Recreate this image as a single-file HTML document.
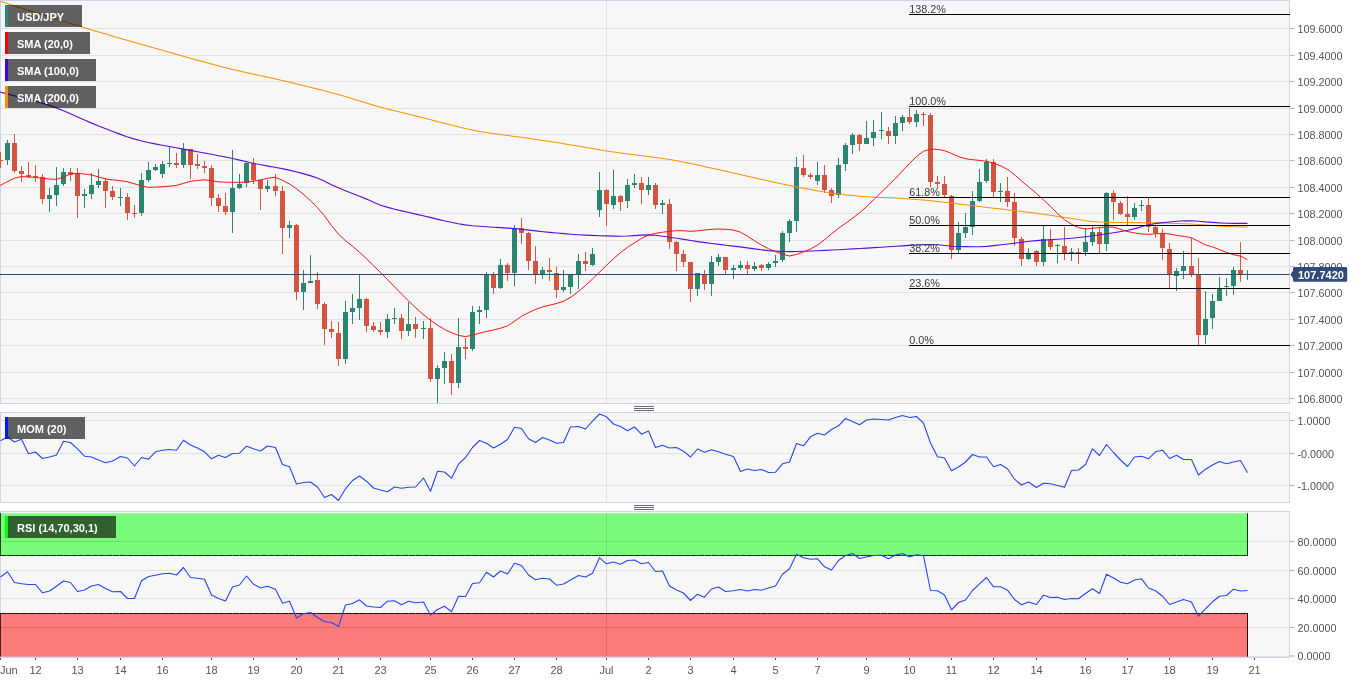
<!DOCTYPE html>
<html><head><meta charset="utf-8"><title>USD/JPY</title>
<style>html,body{margin:0;padding:0;background:#fff;}body{width:1360px;height:683px;overflow:hidden;font-family:"Liberation Sans",sans-serif;}svg{display:block;will-change:transform;}text{font-family:"Liberation Sans",sans-serif;}</style></head><body>
<svg width="1360" height="683" viewBox="0 0 1360 683">
<rect x="0" y="0" width="1289.5" height="403.5" fill="#f7f7f7"/>
<rect x="0.5" y="0.5" width="1289.0" height="403.0" fill="none" stroke="#cfd5e9" stroke-width="1"/>
<line x1="1" y1="28.5" x2="1289.5" y2="28.5" stroke="#e2e2e2" stroke-width="1"/>
<line x1="1" y1="55.5" x2="1289.5" y2="55.5" stroke="#e2e2e2" stroke-width="1"/>
<line x1="1" y1="81.5" x2="1289.5" y2="81.5" stroke="#e2e2e2" stroke-width="1"/>
<line x1="1" y1="108.5" x2="1289.5" y2="108.5" stroke="#e2e2e2" stroke-width="1"/>
<line x1="1" y1="134.5" x2="1289.5" y2="134.5" stroke="#e2e2e2" stroke-width="1"/>
<line x1="1" y1="160.5" x2="1289.5" y2="160.5" stroke="#e2e2e2" stroke-width="1"/>
<line x1="1" y1="187.5" x2="1289.5" y2="187.5" stroke="#e2e2e2" stroke-width="1"/>
<line x1="1" y1="213.5" x2="1289.5" y2="213.5" stroke="#e2e2e2" stroke-width="1"/>
<line x1="1" y1="240.5" x2="1289.5" y2="240.5" stroke="#e2e2e2" stroke-width="1"/>
<line x1="1" y1="266.5" x2="1289.5" y2="266.5" stroke="#e2e2e2" stroke-width="1"/>
<line x1="1" y1="292.5" x2="1289.5" y2="292.5" stroke="#e2e2e2" stroke-width="1"/>
<line x1="1" y1="319.5" x2="1289.5" y2="319.5" stroke="#e2e2e2" stroke-width="1"/>
<line x1="1" y1="345.5" x2="1289.5" y2="345.5" stroke="#e2e2e2" stroke-width="1"/>
<line x1="1" y1="372.5" x2="1289.5" y2="372.5" stroke="#e2e2e2" stroke-width="1"/>
<line x1="1" y1="398.5" x2="1289.5" y2="398.5" stroke="#e2e2e2" stroke-width="1"/>
<line x1="606.5" y1="1" x2="606.5" y2="403.5" stroke="#e2e2e2" stroke-width="1"/>
<g shape-rendering="crispEdges">
<rect x="0" y="152" width="1" height="16" fill="#d35441"/>
<rect x="-2" y="160" width="5" height="1" fill="#d35441"/>
<rect x="7" y="140" width="1" height="25" fill="#2c866f"/>
<rect x="5" y="143" width="5" height="17" fill="#2c866f"/>
<rect x="14" y="134" width="1" height="39" fill="#d35441"/>
<rect x="12" y="143" width="5" height="28" fill="#d35441"/>
<rect x="21" y="166" width="1" height="16" fill="#d35441"/>
<rect x="19" y="171" width="5" height="3" fill="#d35441"/>
<rect x="28" y="162" width="1" height="16" fill="#d35441"/>
<rect x="26" y="175" width="5" height="2" fill="#d35441"/>
<rect x="35" y="165" width="1" height="17" fill="#d35441"/>
<rect x="33" y="176" width="5" height="1" fill="#d35441"/>
<rect x="42" y="174" width="1" height="30" fill="#d35441"/>
<rect x="40" y="177" width="5" height="22" fill="#d35441"/>
<rect x="49" y="188" width="1" height="24" fill="#2c866f"/>
<rect x="47" y="195" width="5" height="4" fill="#2c866f"/>
<rect x="56" y="167" width="1" height="39" fill="#2c866f"/>
<rect x="54" y="185" width="5" height="10" fill="#2c866f"/>
<rect x="63" y="168" width="1" height="18" fill="#2c866f"/>
<rect x="61" y="172" width="5" height="12" fill="#2c866f"/>
<rect x="70" y="168" width="1" height="13" fill="#d35441"/>
<rect x="68" y="172" width="5" height="3" fill="#d35441"/>
<rect x="77" y="168" width="1" height="50" fill="#d35441"/>
<rect x="75" y="174" width="5" height="22" fill="#d35441"/>
<rect x="84" y="189" width="1" height="19" fill="#2c866f"/>
<rect x="82" y="194" width="5" height="2" fill="#2c866f"/>
<rect x="91" y="173" width="1" height="26" fill="#2c866f"/>
<rect x="89" y="185" width="5" height="9" fill="#2c866f"/>
<rect x="98" y="169" width="1" height="19" fill="#2c866f"/>
<rect x="96" y="181" width="5" height="4" fill="#2c866f"/>
<rect x="105" y="178" width="1" height="30" fill="#d35441"/>
<rect x="103" y="181" width="5" height="10" fill="#d35441"/>
<rect x="112" y="186" width="1" height="14" fill="#d35441"/>
<rect x="110" y="191" width="5" height="6" fill="#d35441"/>
<rect x="120" y="188" width="1" height="18" fill="#2c866f"/>
<rect x="118" y="197" width="5" height="1" fill="#2c866f"/>
<rect x="127" y="193" width="1" height="27" fill="#d35441"/>
<rect x="125" y="197" width="5" height="16" fill="#d35441"/>
<rect x="134" y="205" width="1" height="13" fill="#d35441"/>
<rect x="132" y="213" width="5" height="1" fill="#d35441"/>
<rect x="141" y="173" width="1" height="43" fill="#2c866f"/>
<rect x="139" y="180" width="5" height="33" fill="#2c866f"/>
<rect x="148" y="162" width="1" height="20" fill="#2c866f"/>
<rect x="146" y="170" width="5" height="10" fill="#2c866f"/>
<rect x="155" y="164" width="1" height="7" fill="#2c866f"/>
<rect x="153" y="167" width="5" height="3" fill="#2c866f"/>
<rect x="162" y="161" width="1" height="17" fill="#2c866f"/>
<rect x="160" y="164" width="5" height="10" fill="#2c866f"/>
<rect x="169" y="147" width="1" height="20" fill="#2c866f"/>
<rect x="167" y="163" width="5" height="1" fill="#2c866f"/>
<rect x="176" y="153" width="1" height="15" fill="#d35441"/>
<rect x="174" y="163" width="5" height="2" fill="#d35441"/>
<rect x="183" y="143" width="1" height="25" fill="#2c866f"/>
<rect x="181" y="149" width="5" height="16" fill="#2c866f"/>
<rect x="190" y="149" width="1" height="30" fill="#d35441"/>
<rect x="188" y="149" width="5" height="16" fill="#d35441"/>
<rect x="197" y="154" width="1" height="15" fill="#d35441"/>
<rect x="195" y="164" width="5" height="2" fill="#d35441"/>
<rect x="204" y="161" width="1" height="12" fill="#d35441"/>
<rect x="202" y="166" width="5" height="2" fill="#d35441"/>
<rect x="211" y="165" width="1" height="41" fill="#d35441"/>
<rect x="209" y="168" width="5" height="30" fill="#d35441"/>
<rect x="218" y="194" width="1" height="18" fill="#d35441"/>
<rect x="216" y="198" width="5" height="8" fill="#d35441"/>
<rect x="225" y="193" width="1" height="22" fill="#d35441"/>
<rect x="223" y="206" width="5" height="6" fill="#d35441"/>
<rect x="232" y="150" width="1" height="83" fill="#2c866f"/>
<rect x="230" y="188" width="5" height="24" fill="#2c866f"/>
<rect x="239" y="174" width="1" height="15" fill="#2c866f"/>
<rect x="237" y="184" width="5" height="4" fill="#2c866f"/>
<rect x="246" y="161" width="1" height="26" fill="#2c866f"/>
<rect x="244" y="163" width="5" height="20" fill="#2c866f"/>
<rect x="253" y="158" width="1" height="26" fill="#d35441"/>
<rect x="251" y="163" width="5" height="17" fill="#d35441"/>
<rect x="260" y="180" width="1" height="30" fill="#d35441"/>
<rect x="258" y="180" width="5" height="9" fill="#d35441"/>
<rect x="267" y="180" width="1" height="12" fill="#2c866f"/>
<rect x="265" y="186" width="5" height="3" fill="#2c866f"/>
<rect x="275" y="174" width="1" height="22" fill="#d35441"/>
<rect x="273" y="186" width="5" height="5" fill="#d35441"/>
<rect x="282" y="186" width="1" height="68" fill="#d35441"/>
<rect x="280" y="191" width="5" height="37" fill="#d35441"/>
<rect x="289" y="221" width="1" height="17" fill="#2c866f"/>
<rect x="287" y="225" width="5" height="3" fill="#2c866f"/>
<rect x="296" y="224" width="1" height="76" fill="#d35441"/>
<rect x="294" y="225" width="5" height="67" fill="#d35441"/>
<rect x="303" y="270" width="1" height="40" fill="#2c866f"/>
<rect x="301" y="283" width="5" height="9" fill="#2c866f"/>
<rect x="310" y="255" width="1" height="28" fill="#2c866f"/>
<rect x="308" y="281" width="5" height="2" fill="#2c866f"/>
<rect x="317" y="272" width="1" height="37" fill="#d35441"/>
<rect x="315" y="280" width="5" height="24" fill="#d35441"/>
<rect x="324" y="302" width="1" height="43" fill="#d35441"/>
<rect x="322" y="304" width="5" height="25" fill="#d35441"/>
<rect x="331" y="321" width="1" height="17" fill="#d35441"/>
<rect x="329" y="329" width="5" height="3" fill="#d35441"/>
<rect x="338" y="322" width="1" height="44" fill="#d35441"/>
<rect x="336" y="333" width="5" height="26" fill="#d35441"/>
<rect x="345" y="301" width="1" height="63" fill="#2c866f"/>
<rect x="343" y="312" width="5" height="47" fill="#2c866f"/>
<rect x="352" y="294" width="1" height="30" fill="#2c866f"/>
<rect x="350" y="308" width="5" height="4" fill="#2c866f"/>
<rect x="359" y="274" width="1" height="46" fill="#2c866f"/>
<rect x="357" y="299" width="5" height="9" fill="#2c866f"/>
<rect x="366" y="298" width="1" height="34" fill="#d35441"/>
<rect x="364" y="299" width="5" height="27" fill="#d35441"/>
<rect x="373" y="322" width="1" height="10" fill="#d35441"/>
<rect x="371" y="326" width="5" height="4" fill="#d35441"/>
<rect x="380" y="322" width="1" height="13" fill="#d35441"/>
<rect x="378" y="330" width="5" height="2" fill="#d35441"/>
<rect x="387" y="314" width="1" height="24" fill="#2c866f"/>
<rect x="385" y="319" width="5" height="13" fill="#2c866f"/>
<rect x="394" y="308" width="1" height="16" fill="#2c866f"/>
<rect x="392" y="318" width="5" height="1" fill="#2c866f"/>
<rect x="401" y="314" width="1" height="25" fill="#d35441"/>
<rect x="399" y="318" width="5" height="13" fill="#d35441"/>
<rect x="408" y="302" width="1" height="34" fill="#2c866f"/>
<rect x="406" y="324" width="5" height="7" fill="#2c866f"/>
<rect x="415" y="317" width="1" height="21" fill="#d35441"/>
<rect x="413" y="324" width="5" height="5" fill="#d35441"/>
<rect x="423" y="321" width="1" height="18" fill="#2c866f"/>
<rect x="421" y="328" width="5" height="1" fill="#2c866f"/>
<rect x="430" y="318" width="1" height="64" fill="#d35441"/>
<rect x="428" y="328" width="5" height="51" fill="#d35441"/>
<rect x="437" y="365" width="1" height="38" fill="#2c866f"/>
<rect x="435" y="368" width="5" height="11" fill="#2c866f"/>
<rect x="444" y="352" width="1" height="32" fill="#2c866f"/>
<rect x="442" y="361" width="5" height="7" fill="#2c866f"/>
<rect x="451" y="354" width="1" height="41" fill="#d35441"/>
<rect x="449" y="361" width="5" height="22" fill="#d35441"/>
<rect x="458" y="318" width="1" height="70" fill="#2c866f"/>
<rect x="456" y="347" width="5" height="36" fill="#2c866f"/>
<rect x="465" y="338" width="1" height="21" fill="#d35441"/>
<rect x="463" y="347" width="5" height="2" fill="#d35441"/>
<rect x="472" y="306" width="1" height="45" fill="#2c866f"/>
<rect x="470" y="312" width="5" height="37" fill="#2c866f"/>
<rect x="479" y="306" width="1" height="18" fill="#2c866f"/>
<rect x="477" y="310" width="5" height="2" fill="#2c866f"/>
<rect x="486" y="272" width="1" height="46" fill="#2c866f"/>
<rect x="484" y="275" width="5" height="35" fill="#2c866f"/>
<rect x="493" y="272" width="1" height="22" fill="#d35441"/>
<rect x="491" y="275" width="5" height="13" fill="#d35441"/>
<rect x="500" y="259" width="1" height="30" fill="#2c866f"/>
<rect x="498" y="265" width="5" height="23" fill="#2c866f"/>
<rect x="507" y="263" width="1" height="18" fill="#d35441"/>
<rect x="505" y="265" width="5" height="8" fill="#d35441"/>
<rect x="514" y="225" width="1" height="61" fill="#2c866f"/>
<rect x="512" y="228" width="5" height="45" fill="#2c866f"/>
<rect x="521" y="218" width="1" height="26" fill="#d35441"/>
<rect x="519" y="228" width="5" height="5" fill="#d35441"/>
<rect x="528" y="232" width="1" height="38" fill="#d35441"/>
<rect x="526" y="233" width="5" height="28" fill="#d35441"/>
<rect x="535" y="246" width="1" height="38" fill="#d35441"/>
<rect x="533" y="261" width="5" height="14" fill="#d35441"/>
<rect x="542" y="267" width="1" height="12" fill="#2c866f"/>
<rect x="540" y="270" width="5" height="4" fill="#2c866f"/>
<rect x="549" y="258" width="1" height="23" fill="#d35441"/>
<rect x="547" y="270" width="5" height="2" fill="#d35441"/>
<rect x="556" y="267" width="1" height="31" fill="#d35441"/>
<rect x="554" y="273" width="5" height="17" fill="#d35441"/>
<rect x="563" y="270" width="1" height="22" fill="#2c866f"/>
<rect x="561" y="287" width="5" height="3" fill="#2c866f"/>
<rect x="570" y="274" width="1" height="20" fill="#2c866f"/>
<rect x="568" y="274" width="5" height="13" fill="#2c866f"/>
<rect x="578" y="254" width="1" height="35" fill="#2c866f"/>
<rect x="576" y="261" width="5" height="13" fill="#2c866f"/>
<rect x="585" y="252" width="1" height="19" fill="#d35441"/>
<rect x="583" y="261" width="5" height="3" fill="#d35441"/>
<rect x="592" y="248" width="1" height="18" fill="#2c866f"/>
<rect x="590" y="254" width="5" height="11" fill="#2c866f"/>
<rect x="599" y="172" width="1" height="45" fill="#2c866f"/>
<rect x="597" y="190" width="5" height="20" fill="#2c866f"/>
<rect x="606" y="189" width="1" height="37" fill="#d35441"/>
<rect x="604" y="190" width="5" height="14" fill="#d35441"/>
<rect x="613" y="170" width="1" height="39" fill="#2c866f"/>
<rect x="611" y="196" width="5" height="9" fill="#2c866f"/>
<rect x="620" y="195" width="1" height="16" fill="#d35441"/>
<rect x="618" y="196" width="5" height="6" fill="#d35441"/>
<rect x="627" y="179" width="1" height="29" fill="#2c866f"/>
<rect x="625" y="185" width="5" height="16" fill="#2c866f"/>
<rect x="634" y="174" width="1" height="14" fill="#2c866f"/>
<rect x="632" y="183" width="5" height="2" fill="#2c866f"/>
<rect x="641" y="177" width="1" height="27" fill="#d35441"/>
<rect x="639" y="183" width="5" height="7" fill="#d35441"/>
<rect x="648" y="177" width="1" height="18" fill="#2c866f"/>
<rect x="646" y="185" width="5" height="5" fill="#2c866f"/>
<rect x="655" y="183" width="1" height="26" fill="#d35441"/>
<rect x="653" y="185" width="5" height="20" fill="#d35441"/>
<rect x="662" y="200" width="1" height="14" fill="#2c866f"/>
<rect x="660" y="203" width="5" height="2" fill="#2c866f"/>
<rect x="669" y="199" width="1" height="50" fill="#d35441"/>
<rect x="667" y="204" width="5" height="38" fill="#d35441"/>
<rect x="676" y="241" width="1" height="30" fill="#d35441"/>
<rect x="674" y="242" width="5" height="12" fill="#d35441"/>
<rect x="683" y="250" width="1" height="17" fill="#d35441"/>
<rect x="681" y="254" width="5" height="8" fill="#d35441"/>
<rect x="690" y="262" width="1" height="40" fill="#d35441"/>
<rect x="688" y="262" width="5" height="27" fill="#d35441"/>
<rect x="697" y="273" width="1" height="23" fill="#2c866f"/>
<rect x="695" y="273" width="5" height="16" fill="#2c866f"/>
<rect x="704" y="270" width="1" height="20" fill="#d35441"/>
<rect x="702" y="275" width="5" height="9" fill="#d35441"/>
<rect x="711" y="256" width="1" height="40" fill="#2c866f"/>
<rect x="709" y="262" width="5" height="22" fill="#2c866f"/>
<rect x="718" y="254" width="1" height="12" fill="#2c866f"/>
<rect x="716" y="257" width="5" height="5" fill="#2c866f"/>
<rect x="725" y="257" width="1" height="17" fill="#d35441"/>
<rect x="723" y="257" width="5" height="13" fill="#d35441"/>
<rect x="733" y="265" width="1" height="14" fill="#2c866f"/>
<rect x="731" y="268" width="5" height="2" fill="#2c866f"/>
<rect x="740" y="261" width="1" height="9" fill="#2c866f"/>
<rect x="738" y="265" width="5" height="3" fill="#2c866f"/>
<rect x="747" y="261" width="1" height="13" fill="#d35441"/>
<rect x="745" y="265" width="5" height="4" fill="#d35441"/>
<rect x="754" y="262" width="1" height="9" fill="#2c866f"/>
<rect x="752" y="266" width="5" height="3" fill="#2c866f"/>
<rect x="761" y="264" width="1" height="7" fill="#d35441"/>
<rect x="759" y="265" width="5" height="3" fill="#d35441"/>
<rect x="768" y="262" width="1" height="8" fill="#2c866f"/>
<rect x="766" y="264" width="5" height="4" fill="#2c866f"/>
<rect x="775" y="255" width="1" height="12" fill="#2c866f"/>
<rect x="773" y="261" width="5" height="2" fill="#2c866f"/>
<rect x="782" y="231" width="1" height="31" fill="#2c866f"/>
<rect x="780" y="233" width="5" height="27" fill="#2c866f"/>
<rect x="789" y="219" width="1" height="23" fill="#2c866f"/>
<rect x="787" y="221" width="5" height="12" fill="#2c866f"/>
<rect x="796" y="157" width="1" height="75" fill="#2c866f"/>
<rect x="794" y="167" width="5" height="54" fill="#2c866f"/>
<rect x="803" y="155" width="1" height="22" fill="#d35441"/>
<rect x="801" y="168" width="5" height="7" fill="#d35441"/>
<rect x="810" y="173" width="1" height="6" fill="#d35441"/>
<rect x="808" y="175" width="5" height="2" fill="#d35441"/>
<rect x="817" y="162" width="1" height="23" fill="#2c866f"/>
<rect x="815" y="175" width="5" height="6" fill="#2c866f"/>
<rect x="824" y="165" width="1" height="28" fill="#d35441"/>
<rect x="822" y="175" width="5" height="15" fill="#d35441"/>
<rect x="831" y="188" width="1" height="15" fill="#d35441"/>
<rect x="829" y="190" width="5" height="6" fill="#d35441"/>
<rect x="838" y="158" width="1" height="40" fill="#2c866f"/>
<rect x="836" y="165" width="5" height="30" fill="#2c866f"/>
<rect x="845" y="143" width="1" height="28" fill="#2c866f"/>
<rect x="843" y="145" width="5" height="19" fill="#2c866f"/>
<rect x="852" y="133" width="1" height="21" fill="#2c866f"/>
<rect x="850" y="135" width="5" height="10" fill="#2c866f"/>
<rect x="859" y="134" width="1" height="17" fill="#d35441"/>
<rect x="857" y="135" width="5" height="9" fill="#d35441"/>
<rect x="866" y="121" width="1" height="23" fill="#2c866f"/>
<rect x="864" y="138" width="5" height="6" fill="#2c866f"/>
<rect x="873" y="120" width="1" height="26" fill="#2c866f"/>
<rect x="871" y="132" width="5" height="6" fill="#2c866f"/>
<rect x="881" y="112" width="1" height="27" fill="#2c866f"/>
<rect x="879" y="130" width="5" height="1" fill="#2c866f"/>
<rect x="888" y="127" width="1" height="17" fill="#d35441"/>
<rect x="886" y="131" width="5" height="5" fill="#d35441"/>
<rect x="895" y="116" width="1" height="28" fill="#2c866f"/>
<rect x="893" y="123" width="5" height="13" fill="#2c866f"/>
<rect x="902" y="115" width="1" height="16" fill="#2c866f"/>
<rect x="900" y="117" width="5" height="6" fill="#2c866f"/>
<rect x="909" y="108" width="1" height="16" fill="#d35441"/>
<rect x="907" y="117" width="5" height="5" fill="#d35441"/>
<rect x="916" y="110" width="1" height="17" fill="#2c866f"/>
<rect x="914" y="114" width="5" height="8" fill="#2c866f"/>
<rect x="923" y="112" width="1" height="14" fill="#d35441"/>
<rect x="921" y="114" width="5" height="1" fill="#d35441"/>
<rect x="930" y="113" width="1" height="74" fill="#d35441"/>
<rect x="928" y="115" width="5" height="67" fill="#d35441"/>
<rect x="937" y="176" width="1" height="12" fill="#d35441"/>
<rect x="935" y="182" width="5" height="2" fill="#d35441"/>
<rect x="944" y="176" width="1" height="22" fill="#d35441"/>
<rect x="942" y="184" width="5" height="11" fill="#d35441"/>
<rect x="951" y="195" width="1" height="64" fill="#d35441"/>
<rect x="949" y="196" width="5" height="54" fill="#d35441"/>
<rect x="958" y="222" width="1" height="31" fill="#2c866f"/>
<rect x="956" y="233" width="5" height="17" fill="#2c866f"/>
<rect x="965" y="213" width="1" height="25" fill="#2c866f"/>
<rect x="963" y="227" width="5" height="6" fill="#2c866f"/>
<rect x="972" y="191" width="1" height="44" fill="#2c866f"/>
<rect x="970" y="201" width="5" height="26" fill="#2c866f"/>
<rect x="979" y="169" width="1" height="33" fill="#2c866f"/>
<rect x="977" y="182" width="5" height="19" fill="#2c866f"/>
<rect x="986" y="159" width="1" height="24" fill="#2c866f"/>
<rect x="984" y="162" width="5" height="19" fill="#2c866f"/>
<rect x="993" y="159" width="1" height="39" fill="#d35441"/>
<rect x="991" y="162" width="5" height="30" fill="#d35441"/>
<rect x="1000" y="183" width="1" height="19" fill="#2c866f"/>
<rect x="998" y="191" width="5" height="1" fill="#2c866f"/>
<rect x="1007" y="177" width="1" height="30" fill="#d35441"/>
<rect x="1005" y="191" width="5" height="11" fill="#d35441"/>
<rect x="1014" y="193" width="1" height="53" fill="#d35441"/>
<rect x="1012" y="202" width="5" height="36" fill="#d35441"/>
<rect x="1021" y="237" width="1" height="29" fill="#d35441"/>
<rect x="1019" y="239" width="5" height="20" fill="#d35441"/>
<rect x="1028" y="248" width="1" height="12" fill="#2c866f"/>
<rect x="1026" y="254" width="5" height="5" fill="#2c866f"/>
<rect x="1036" y="250" width="1" height="16" fill="#d35441"/>
<rect x="1034" y="251" width="5" height="11" fill="#d35441"/>
<rect x="1043" y="226" width="1" height="40" fill="#2c866f"/>
<rect x="1041" y="239" width="5" height="23" fill="#2c866f"/>
<rect x="1050" y="229" width="1" height="21" fill="#d35441"/>
<rect x="1048" y="239" width="5" height="8" fill="#d35441"/>
<rect x="1057" y="244" width="1" height="19" fill="#2c866f"/>
<rect x="1055" y="245" width="5" height="1" fill="#2c866f"/>
<rect x="1064" y="227" width="1" height="33" fill="#d35441"/>
<rect x="1062" y="246" width="5" height="7" fill="#d35441"/>
<rect x="1071" y="248" width="1" height="13" fill="#2c866f"/>
<rect x="1069" y="252" width="5" height="1" fill="#2c866f"/>
<rect x="1078" y="248" width="1" height="16" fill="#d35441"/>
<rect x="1076" y="252" width="5" height="1" fill="#d35441"/>
<rect x="1085" y="228" width="1" height="28" fill="#2c866f"/>
<rect x="1083" y="242" width="5" height="10" fill="#2c866f"/>
<rect x="1092" y="226" width="1" height="20" fill="#2c866f"/>
<rect x="1090" y="232" width="5" height="10" fill="#2c866f"/>
<rect x="1099" y="228" width="1" height="25" fill="#d35441"/>
<rect x="1097" y="232" width="5" height="12" fill="#d35441"/>
<rect x="1106" y="192" width="1" height="59" fill="#2c866f"/>
<rect x="1104" y="193" width="5" height="51" fill="#2c866f"/>
<rect x="1113" y="190" width="1" height="30" fill="#d35441"/>
<rect x="1111" y="193" width="5" height="9" fill="#d35441"/>
<rect x="1120" y="201" width="1" height="14" fill="#d35441"/>
<rect x="1118" y="203" width="5" height="11" fill="#d35441"/>
<rect x="1127" y="196" width="1" height="29" fill="#d35441"/>
<rect x="1125" y="214" width="5" height="3" fill="#d35441"/>
<rect x="1134" y="203" width="1" height="17" fill="#2c866f"/>
<rect x="1132" y="208" width="5" height="9" fill="#2c866f"/>
<rect x="1141" y="200" width="1" height="11" fill="#2c866f"/>
<rect x="1139" y="205" width="5" height="1" fill="#2c866f"/>
<rect x="1148" y="198" width="1" height="34" fill="#d35441"/>
<rect x="1146" y="205" width="5" height="22" fill="#d35441"/>
<rect x="1155" y="226" width="1" height="12" fill="#d35441"/>
<rect x="1153" y="227" width="5" height="6" fill="#d35441"/>
<rect x="1162" y="229" width="1" height="31" fill="#d35441"/>
<rect x="1160" y="233" width="5" height="15" fill="#d35441"/>
<rect x="1169" y="243" width="1" height="45" fill="#d35441"/>
<rect x="1167" y="249" width="5" height="26" fill="#d35441"/>
<rect x="1176" y="268" width="1" height="23" fill="#2c866f"/>
<rect x="1174" y="271" width="5" height="5" fill="#2c866f"/>
<rect x="1183" y="251" width="1" height="28" fill="#2c866f"/>
<rect x="1181" y="266" width="5" height="5" fill="#2c866f"/>
<rect x="1191" y="238" width="1" height="39" fill="#d35441"/>
<rect x="1189" y="266" width="5" height="8" fill="#d35441"/>
<rect x="1198" y="258" width="1" height="87" fill="#d35441"/>
<rect x="1196" y="275" width="5" height="60" fill="#d35441"/>
<rect x="1205" y="291" width="1" height="53" fill="#2c866f"/>
<rect x="1203" y="319" width="5" height="16" fill="#2c866f"/>
<rect x="1212" y="294" width="1" height="35" fill="#2c866f"/>
<rect x="1210" y="301" width="5" height="17" fill="#2c866f"/>
<rect x="1219" y="277" width="1" height="24" fill="#2c866f"/>
<rect x="1217" y="288" width="5" height="13" fill="#2c866f"/>
<rect x="1226" y="278" width="1" height="18" fill="#2c866f"/>
<rect x="1224" y="286" width="5" height="1" fill="#2c866f"/>
<rect x="1233" y="267" width="1" height="28" fill="#2c866f"/>
<rect x="1231" y="270" width="5" height="16" fill="#2c866f"/>
<rect x="1240" y="242" width="1" height="40" fill="#d35441"/>
<rect x="1238" y="270" width="5" height="4" fill="#d35441"/>
<rect x="1247" y="270" width="1" height="10" fill="#2c866f"/>
<rect x="1245" y="274" width="5" height="1" fill="#2c866f"/>
</g>
<polyline points="0.0,1.3 7.0,3.5 14.1,5.7 21.1,8.0 28.2,10.2 35.2,12.4 42.3,14.7 49.4,16.9 56.4,19.1 63.4,21.3 70.5,23.5 77.5,25.6 84.6,27.8 91.6,29.9 98.7,32.0 105.8,34.1 112.8,36.2 119.8,38.2 126.9,40.3 133.9,42.3 141.0,44.3 148.0,46.3 155.1,48.3 162.2,50.3 169.2,52.3 176.2,54.3 183.3,56.3 190.3,58.3 197.4,60.2 204.4,62.1 211.5,64.0 218.5,65.9 225.6,67.7 232.7,69.4 239.7,71.1 246.8,72.7 253.8,74.2 260.8,75.8 267.9,77.3 274.9,78.8 282.0,80.5 289.1,82.1 296.1,83.8 303.1,85.5 310.2,87.3 317.2,89.0 324.3,90.8 331.3,92.7 338.4,94.6 345.4,96.5 352.5,98.7 359.6,100.9 366.6,103.1 373.6,105.2 380.7,107.2 387.8,109.1 394.8,110.8 401.8,112.6 408.9,114.3 415.9,116.0 423.0,117.7 430.1,119.6 437.1,121.4 444.1,123.3 451.2,125.1 458.2,126.8 465.3,128.5 472.3,130.0 479.4,131.4 486.4,132.6 493.5,133.6 500.6,134.6 507.6,135.5 514.6,136.4 521.7,137.3 528.8,138.3 535.8,139.4 542.9,140.4 549.9,141.5 556.9,142.6 564.0,143.7 571.0,144.9 578.1,146.0 585.1,147.2 592.2,148.4 599.2,149.7 606.3,150.9 613.4,152.0 620.4,153.0 627.4,153.9 634.5,154.8 641.5,155.7 648.6,156.6 655.6,157.5 662.7,158.5 669.8,159.6 676.8,160.8 683.9,162.2 690.9,163.6 697.9,165.1 705.0,166.7 712.0,168.3 719.1,169.8 726.1,171.3 733.2,172.9 740.2,174.5 747.3,176.2 754.4,177.8 761.4,179.4 768.4,181.0 775.5,182.5 782.5,184.0 789.6,185.5 796.6,186.9 803.7,188.2 810.8,189.6 817.8,190.9 824.9,192.1 831.9,193.2 838.9,194.1 846.0,194.9 853.0,195.6 860.1,196.2 867.1,196.7 874.2,197.2 881.2,197.5 888.3,197.8 895.4,198.1 902.4,198.4 909.4,198.9 916.5,199.4 923.5,200.0 930.6,200.7 937.6,201.4 944.7,202.2 951.8,203.1 958.8,204.0 965.9,204.8 972.9,205.7 979.9,206.6 987.0,207.4 994.0,208.3 1001.1,209.1 1008.1,209.9 1015.2,210.7 1022.2,211.5 1029.3,212.4 1036.3,213.2 1043.4,214.2 1050.5,215.3 1057.5,216.4 1064.5,217.4 1071.6,218.5 1078.6,219.6 1085.7,220.7 1092.8,221.5 1099.8,222.0 1106.8,222.2 1113.9,222.4 1121.0,222.5 1128.0,222.6 1135.0,222.6 1142.1,222.7 1149.1,222.7 1156.2,222.8 1163.2,223.0 1170.3,223.3 1177.3,223.5 1184.4,223.7 1191.5,224.0 1198.5,224.4 1205.5,224.9 1212.6,225.4 1219.6,226.0 1226.7,226.4 1233.8,226.7 1240.8,227.0 1247.5,227.3" fill="none" stroke="#ff9000" stroke-width="1.05" stroke-linejoin="round" />
<polyline points="0.0,92.0 7.0,93.9 14.1,95.7 21.1,97.5 28.2,99.3 35.2,101.2 42.3,103.2 49.4,105.4 56.4,107.9 63.4,110.7 70.5,113.7 77.5,116.9 84.6,120.0 91.6,123.1 98.7,126.0 105.8,128.7 112.8,131.5 119.8,134.1 126.9,136.7 133.9,138.9 141.0,140.8 148.0,142.5 155.1,143.9 162.2,145.2 169.2,146.5 176.2,147.7 183.3,149.1 190.3,150.4 197.4,151.7 204.4,153.0 211.5,154.3 218.5,155.7 225.6,157.0 232.7,158.5 239.7,160.1 246.8,161.8 253.8,163.5 260.8,164.8 267.9,166.1 274.9,167.3 282.0,168.6 289.1,170.1 296.1,171.7 303.1,173.6 310.2,175.6 317.2,178.0 324.3,181.0 331.3,184.7 338.4,187.8 345.4,190.7 352.5,193.5 359.6,196.2 366.6,199.1 373.6,202.3 380.7,205.2 387.8,207.4 394.8,209.3 401.8,210.9 408.9,212.5 415.9,214.1 423.0,215.7 430.1,217.4 437.1,219.1 444.1,220.8 451.2,222.3 458.2,223.7 465.3,224.9 472.3,225.7 479.4,226.3 486.4,226.8 493.5,227.2 500.6,227.6 507.6,228.1 514.6,228.6 521.7,229.3 528.8,230.1 535.8,230.9 542.9,231.7 549.9,232.4 556.9,233.0 564.0,233.6 571.0,234.2 578.1,234.7 585.1,235.1 592.2,235.4 599.2,235.7 606.3,235.9 613.4,236.1 620.4,236.2 627.4,236.0 634.5,235.6 641.5,235.1 648.6,234.9 655.6,235.3 662.7,236.2 669.8,237.3 676.8,238.3 683.9,239.4 690.9,240.5 697.9,241.6 705.0,242.6 712.0,243.5 719.1,244.4 726.1,245.2 733.2,246.1 740.2,246.9 747.3,247.9 754.4,248.9 761.4,249.8 768.4,250.6 775.5,251.1 782.5,251.5 789.6,251.6 796.6,251.5 803.7,251.3 810.8,251.0 817.8,250.7 824.9,250.4 831.9,250.0 838.9,249.7 846.0,249.3 853.0,248.9 860.1,248.5 867.1,248.1 874.2,247.6 881.2,247.2 888.3,246.7 895.4,246.3 902.4,245.9 909.4,245.4 916.5,245.0 923.5,244.6 930.6,244.5 937.6,244.8 944.7,245.5 951.8,246.2 958.8,246.5 965.9,246.6 972.9,246.7 979.9,246.7 987.0,246.4 994.0,245.6 1001.1,244.8 1008.1,244.0 1015.2,243.1 1022.2,242.2 1029.3,241.3 1036.3,240.6 1043.4,240.1 1050.5,239.7 1057.5,239.3 1064.5,238.8 1071.6,238.2 1078.6,237.5 1085.7,236.7 1092.8,235.8 1099.8,234.8 1106.8,233.8 1113.9,232.7 1121.0,231.5 1128.0,230.2 1135.0,228.6 1142.1,226.5 1149.1,224.7 1156.2,223.4 1163.2,222.6 1170.3,222.0 1177.3,221.3 1184.4,220.8 1191.5,220.8 1198.5,221.2 1205.5,221.9 1212.6,222.4 1219.6,222.9 1226.7,223.2 1233.8,223.4 1240.8,223.4 1247.5,223.4" fill="none" stroke="#5a0fd8" stroke-width="1.15" stroke-linejoin="round" />
<polyline points="0.0,185.5 7.0,181.9 14.1,178.3 21.1,176.6 28.2,176.9 35.2,177.5 42.3,178.2 49.4,179.0 56.4,179.3 63.4,177.2 70.5,173.9 77.5,173.4 84.6,174.0 91.6,175.0 98.7,177.0 105.8,179.0 112.8,179.9 119.8,180.6 126.9,181.6 133.9,183.6 141.0,185.8 148.0,187.3 155.1,187.1 162.2,186.8 169.2,186.2 176.2,185.5 183.3,183.4 190.3,181.4 197.4,180.4 204.4,179.9 211.5,180.7 218.5,181.9 225.6,182.2 232.7,182.3 239.7,182.4 246.8,182.0 253.8,181.0 260.8,179.9 267.9,178.2 274.9,177.2 282.0,180.0 289.1,183.8 296.1,188.5 303.1,194.1 310.2,200.4 317.2,207.3 324.3,215.7 331.3,225.3 338.4,234.0 345.4,240.6 352.5,246.2 359.6,252.3 366.6,258.9 373.6,265.7 380.7,272.7 387.8,279.8 394.8,287.1 401.8,294.3 408.9,301.3 415.9,307.9 423.0,314.3 430.1,320.0 437.1,324.9 444.1,329.2 451.2,332.5 458.2,335.3 465.3,336.6 472.3,335.3 479.4,333.2 486.4,331.5 493.5,330.0 500.6,328.2 507.6,325.8 514.6,321.2 521.7,316.2 528.8,312.5 535.8,309.3 542.9,306.8 549.9,305.1 556.9,303.4 564.0,301.1 571.0,297.1 578.1,291.7 585.1,285.8 592.2,279.3 599.2,272.5 606.3,265.5 613.4,258.8 620.4,252.7 627.4,247.4 634.5,242.8 641.5,238.4 648.6,235.0 655.6,233.4 662.7,232.2 669.8,231.3 676.8,230.6 683.9,230.8 690.9,231.3 697.9,230.8 705.0,230.0 712.0,229.3 719.1,229.0 726.1,229.3 733.2,230.0 740.2,232.1 747.3,236.0 754.4,240.7 761.4,245.1 768.4,248.6 775.5,251.6 782.5,254.2 789.6,256.0 796.6,254.4 803.7,251.8 810.8,248.8 817.8,244.9 824.9,239.4 831.9,233.5 838.9,228.0 846.0,223.0 853.0,217.9 860.1,212.4 867.1,206.2 874.2,199.2 881.2,192.4 888.3,185.6 895.4,178.4 902.4,171.0 909.4,163.5 916.5,156.6 923.5,151.2 930.6,149.1 937.6,149.4 944.7,150.7 951.8,153.6 958.8,156.7 965.9,158.8 972.9,159.7 979.9,160.4 987.0,161.4 994.0,163.4 1001.1,166.0 1008.1,169.7 1015.2,175.3 1022.2,181.6 1029.3,187.4 1036.3,193.3 1043.4,199.8 1050.5,206.4 1057.5,213.5 1064.5,219.7 1071.6,224.3 1078.6,227.6 1085.7,229.0 1092.8,228.3 1099.8,227.5 1106.8,227.1 1113.9,227.1 1121.0,229.6 1128.0,231.6 1135.0,233.0 1142.1,234.0 1149.1,234.3 1156.2,233.7 1163.2,233.3 1170.3,234.1 1177.3,235.5 1184.4,236.4 1191.5,237.8 1198.5,241.3 1205.5,245.0 1212.6,247.0 1219.6,249.6 1226.7,252.5 1233.8,254.7 1240.8,256.2 1247.5,259.7" fill="none" stroke="#f51515" stroke-width="1.0" stroke-linejoin="round" />
<line x1="909" y1="14.5" x2="1289.5" y2="14.5" stroke="#000" stroke-width="1" shape-rendering="crispEdges"/>
<text x="909.3" y="12.7" font-size="10.8" fill="#3a3a3a">138.2%</text>
<line x1="909" y1="106.5" x2="1289.5" y2="106.5" stroke="#000" stroke-width="1" shape-rendering="crispEdges"/>
<text x="909.3" y="104.7" font-size="10.8" fill="#3a3a3a">100.0%</text>
<line x1="909" y1="197.5" x2="1289.5" y2="197.5" stroke="#000" stroke-width="1" shape-rendering="crispEdges"/>
<text x="909.3" y="195.7" font-size="10.8" fill="#3a3a3a">61.8%</text>
<line x1="909" y1="225.5" x2="1289.5" y2="225.5" stroke="#000" stroke-width="1" shape-rendering="crispEdges"/>
<text x="909.3" y="223.7" font-size="10.8" fill="#3a3a3a">50.0%</text>
<line x1="909" y1="253.5" x2="1289.5" y2="253.5" stroke="#000" stroke-width="1" shape-rendering="crispEdges"/>
<text x="909.3" y="251.7" font-size="10.8" fill="#3a3a3a">38.2%</text>
<line x1="909" y1="288.5" x2="1289.5" y2="288.5" stroke="#000" stroke-width="1" shape-rendering="crispEdges"/>
<text x="909.3" y="286.7" font-size="10.8" fill="#3a3a3a">23.6%</text>
<line x1="909" y1="345.5" x2="1289.5" y2="345.5" stroke="#000" stroke-width="1" shape-rendering="crispEdges"/>
<text x="909.3" y="343.7" font-size="10.8" fill="#3a3a3a">0.0%</text>
<line x1="0" y1="274.5" x2="1289.5" y2="274.5" stroke="#2f4a78" stroke-width="1.2"/>
<rect x="0" y="412" width="1289.5" height="90.5" fill="#f7f7f7"/>
<rect x="0.5" y="412.5" width="1289.0" height="90.0" fill="none" stroke="#cfd5e9" stroke-width="1"/>
<line x1="1" y1="420.5" x2="1289.5" y2="420.5" stroke="#e2e2e2" stroke-width="1"/>
<line x1="1" y1="453.5" x2="1289.5" y2="453.5" stroke="#e2e2e2" stroke-width="1"/>
<line x1="1" y1="485.5" x2="1289.5" y2="485.5" stroke="#e2e2e2" stroke-width="1"/>
<line x1="606.5" y1="412" x2="606.5" y2="502" stroke="#e2e2e2" stroke-width="1"/>
<polyline points="0.5,440.8 7.5,437.0 14.5,442.0 21.5,439.2 28.5,453.8 35.5,452.0 42.5,458.5 49.5,457.0 56.5,455.0 63.5,441.2 70.5,442.5 77.5,448.8 84.5,456.2 91.5,457.0 98.5,460.0 105.5,462.8 112.5,461.0 120.5,456.5 127.5,458.0 134.5,466.0 141.5,457.5 148.5,459.2 155.5,451.8 162.5,450.2 169.5,449.5 176.5,450.2 183.5,440.2 190.5,445.0 197.5,448.0 204.5,451.8 211.5,458.8 218.5,455.2 225.5,457.5 232.5,453.5 239.5,453.2 246.5,446.2 253.5,448.8 260.5,451.0 267.5,446.0 275.5,447.5 282.5,464.5 289.5,466.8 296.5,484.0 303.5,482.5 310.5,482.0 317.5,487.0 324.5,497.5 331.5,494.5 338.5,500.5 345.5,488.8 352.5,480.5 359.5,476.0 366.5,481.2 373.5,488.0 380.5,490.0 387.5,491.8 394.5,487.0 401.5,488.2 408.5,487.2 415.5,487.0 423.5,478.0 430.5,491.2 437.5,471.2 444.5,472.0 451.5,478.2 458.5,464.2 465.5,457.5 472.5,447.5 479.5,440.5 486.5,443.2 493.5,448.0 500.5,444.2 507.5,439.5 514.5,427.2 521.5,428.5 528.5,438.8 535.5,442.5 542.5,437.5 549.5,440.0 556.5,443.2 563.5,442.5 570.5,427.0 578.5,426.5 585.5,429.0 592.5,421.2 599.5,414.0 606.5,416.8 613.5,424.0 620.5,426.5 627.5,430.8 634.5,427.0 641.5,434.2 648.5,431.0 655.5,447.5 662.5,445.2 669.5,448.0 676.5,447.5 683.5,451.2 690.5,457.0 697.5,449.0 704.5,452.2 711.5,449.8 718.5,451.8 725.5,454.2 733.5,456.5 740.5,471.5 747.5,469.0 754.5,470.5 761.5,469.5 768.5,472.5 775.5,472.2 782.5,463.8 789.5,462.0 796.5,443.5 803.5,445.8 810.5,436.8 817.5,433.2 824.5,435.0 831.5,429.5 838.5,425.8 845.5,418.5 852.5,421.5 859.5,424.8 866.5,420.0 873.5,419.0 881.5,419.5 888.5,420.0 895.5,417.5 902.5,415.5 909.5,417.5 916.5,416.5 923.5,423.2 930.5,443.0 937.5,456.8 944.5,458.0 951.5,470.8 958.5,467.0 965.5,462.0 972.5,454.5 979.5,457.0 986.5,457.0 993.5,466.8 1000.5,464.5 1007.5,468.8 1014.5,479.2 1021.5,485.0 1028.5,482.0 1036.5,487.5 1043.5,483.2 1050.5,483.8 1057.5,485.5 1064.5,487.2 1071.5,470.5 1078.5,470.0 1085.5,464.5 1092.5,448.8 1099.5,455.5 1106.5,444.5 1113.5,452.5 1120.5,460.0 1127.5,466.5 1134.5,457.0 1141.5,456.2 1148.5,458.8 1155.5,451.8 1162.5,450.2 1169.5,458.5 1176.5,455.2 1183.5,459.5 1191.5,459.5 1198.5,475.0 1205.5,469.2 1212.5,465.0 1219.5,461.5 1226.5,463.8 1233.5,462.0 1240.5,460.5 1247.5,472.8" fill="none" stroke="#2746f0" stroke-width="1.1" stroke-linejoin="round" />
<rect x="0" y="511" width="1289.5" height="146.5" fill="#f7f7f7"/>
<rect x="0.5" y="511.5" width="1289.0" height="146.0" fill="none" stroke="#cfd5e9" stroke-width="1"/>
<line x1="1" y1="541.5" x2="1289.5" y2="541.5" stroke="#e2e2e2" stroke-width="1"/>
<line x1="1" y1="570.5" x2="1289.5" y2="570.5" stroke="#e2e2e2" stroke-width="1"/>
<line x1="1" y1="598.5" x2="1289.5" y2="598.5" stroke="#e2e2e2" stroke-width="1"/>
<line x1="1" y1="627.5" x2="1289.5" y2="627.5" stroke="#e2e2e2" stroke-width="1"/>
<line x1="1" y1="656.5" x2="1289.5" y2="656.5" stroke="#e2e2e2" stroke-width="1"/>
<line x1="606.5" y1="511" x2="606.5" y2="657" stroke="#e2e2e2" stroke-width="1"/>
<rect x="0" y="513.3" width="1248" height="42.700000000000045" fill="#00ff00" fill-opacity="0.5"/>
<rect x="0" y="613" width="1248" height="43.60000000000002" fill="#ff0000" fill-opacity="0.5"/>
<line x1="1" y1="541.5" x2="1247" y2="541.5" stroke="#000" stroke-opacity="0.06" stroke-width="1"/>
<line x1="1" y1="627.5" x2="1247" y2="627.5" stroke="#000" stroke-opacity="0.06" stroke-width="1"/>
<line x1="606.5" y1="513" x2="606.5" y2="656" stroke="#000" stroke-opacity="0.05" stroke-width="1"/>
<line x1="0" y1="555.5" x2="1247.5" y2="555.5" stroke="#053c05" stroke-width="1" stroke-dasharray="6.7,0.346"/>
<line x1="0" y1="613.5" x2="1247.5" y2="613.5" stroke="#3c0505" stroke-width="1" stroke-dasharray="6.7,0.346"/>
<line x1="1247.5" y1="513.3" x2="1247.5" y2="556" stroke="#053005" stroke-width="1"/>
<line x1="1247.5" y1="613" x2="1247.5" y2="656.6" stroke="#300505" stroke-width="1"/>
<line x1="0.4" y1="513.3" x2="0.4" y2="556" stroke="#000" stroke-width="0.8"/>
<line x1="0.4" y1="613" x2="0.4" y2="656.6" stroke="#000" stroke-width="0.8"/>
<polyline points="0.5,577.0 7.5,571.8 14.5,582.5 21.5,583.8 28.5,584.5 35.5,584.5 42.5,592.8 49.5,591.0 56.5,586.2 63.5,581.0 70.5,582.5 77.5,591.5 84.5,590.0 91.5,586.0 98.5,584.5 105.5,588.5 112.5,591.8 120.5,591.5 127.5,598.5 134.5,598.5 141.5,580.8 148.5,576.5 155.5,575.2 162.5,573.8 169.5,573.2 176.5,575.0 183.5,567.5 190.5,577.5 197.5,578.2 204.5,579.2 211.5,595.0 218.5,598.5 225.5,601.0 232.5,587.0 239.5,585.0 246.5,576.0 253.5,584.2 260.5,588.0 267.5,586.2 275.5,589.2 282.5,603.2 289.5,601.2 296.5,618.0 303.5,613.8 310.5,612.5 317.5,617.5 324.5,621.5 331.5,622.5 338.5,626.5 345.5,605.0 352.5,603.5 359.5,599.8 366.5,606.0 373.5,607.0 380.5,607.5 387.5,601.2 394.5,600.8 401.5,604.8 408.5,601.2 415.5,602.8 423.5,602.0 430.5,615.0 437.5,609.5 444.5,606.2 451.5,611.8 458.5,596.2 465.5,596.5 472.5,583.5 479.5,582.8 486.5,572.2 493.5,577.0 500.5,571.0 507.5,574.0 514.5,563.2 521.5,565.5 528.5,575.0 535.5,579.8 542.5,578.2 549.5,579.0 556.5,585.2 563.5,584.0 570.5,580.0 578.5,575.5 585.5,577.0 592.5,573.2 599.5,557.8 606.5,563.8 613.5,562.0 620.5,564.2 627.5,560.5 634.5,560.0 641.5,563.8 648.5,562.5 655.5,571.5 662.5,571.0 669.5,586.0 676.5,590.0 683.5,593.0 690.5,600.5 697.5,594.2 704.5,597.2 711.5,589.0 718.5,587.0 725.5,591.5 733.5,590.8 740.5,589.5 747.5,591.0 754.5,589.5 761.5,590.2 768.5,588.0 775.5,586.0 782.5,574.2 789.5,568.8 796.5,554.2 803.5,557.8 810.5,559.2 817.5,558.8 824.5,566.8 831.5,570.0 838.5,560.5 845.5,555.5 852.5,553.5 859.5,558.5 866.5,557.0 873.5,555.5 881.5,555.2 888.5,558.8 895.5,555.0 902.5,553.5 909.5,557.0 916.5,554.8 923.5,555.8 930.5,590.5 937.5,590.8 944.5,595.0 951.5,609.8 958.5,602.5 965.5,600.0 972.5,590.5 979.5,583.8 986.5,577.5 993.5,586.8 1000.5,586.8 1007.5,590.2 1014.5,599.5 1021.5,604.8 1028.5,602.0 1036.5,604.5 1043.5,595.2 1050.5,597.5 1057.5,597.2 1064.5,599.5 1071.5,598.5 1078.5,598.8 1085.5,593.5 1092.5,588.8 1099.5,593.5 1106.5,574.2 1113.5,578.0 1120.5,582.2 1127.5,583.8 1134.5,580.0 1141.5,578.8 1148.5,588.0 1155.5,590.8 1162.5,596.2 1169.5,604.5 1176.5,602.0 1183.5,599.5 1191.5,602.0 1198.5,616.2 1205.5,608.8 1212.5,601.8 1219.5,596.2 1226.5,595.5 1233.5,589.2 1240.5,591.0 1247.5,590.5" fill="none" stroke="#2746f0" stroke-width="1.1" stroke-linejoin="round" />
<line x1="634" y1="406.5" x2="654" y2="406.5" stroke="#6a6a6a" stroke-width="1"/>
<line x1="634" y1="408.5" x2="654" y2="408.5" stroke="#6a6a6a" stroke-width="1"/>
<line x1="634" y1="410.5" x2="654" y2="410.5" stroke="#6a6a6a" stroke-width="1"/>
<line x1="634" y1="505.5" x2="654" y2="505.5" stroke="#6a6a6a" stroke-width="1"/>
<line x1="634" y1="507.5" x2="654" y2="507.5" stroke="#6a6a6a" stroke-width="1"/>
<line x1="634" y1="509.5" x2="654" y2="509.5" stroke="#6a6a6a" stroke-width="1"/>
<line x1="1290.0" y1="28.5" x2="1294.7" y2="28.5" stroke="#b8b8b8" stroke-width="1.2"/>
<text x="1297.5" y="32.5" font-size="10.8" fill="#555">109.6000</text>
<line x1="1290.0" y1="55.5" x2="1294.7" y2="55.5" stroke="#b8b8b8" stroke-width="1.2"/>
<text x="1297.5" y="59.5" font-size="10.8" fill="#555">109.4000</text>
<line x1="1290.0" y1="81.5" x2="1294.7" y2="81.5" stroke="#b8b8b8" stroke-width="1.2"/>
<text x="1297.5" y="85.5" font-size="10.8" fill="#555">109.2000</text>
<line x1="1290.0" y1="108.5" x2="1294.7" y2="108.5" stroke="#b8b8b8" stroke-width="1.2"/>
<text x="1297.5" y="112.5" font-size="10.8" fill="#555">109.0000</text>
<line x1="1290.0" y1="134.5" x2="1294.7" y2="134.5" stroke="#b8b8b8" stroke-width="1.2"/>
<text x="1297.5" y="138.5" font-size="10.8" fill="#555">108.8000</text>
<line x1="1290.0" y1="160.5" x2="1294.7" y2="160.5" stroke="#b8b8b8" stroke-width="1.2"/>
<text x="1297.5" y="164.5" font-size="10.8" fill="#555">108.6000</text>
<line x1="1290.0" y1="187.5" x2="1294.7" y2="187.5" stroke="#b8b8b8" stroke-width="1.2"/>
<text x="1297.5" y="191.5" font-size="10.8" fill="#555">108.4000</text>
<line x1="1290.0" y1="213.5" x2="1294.7" y2="213.5" stroke="#b8b8b8" stroke-width="1.2"/>
<text x="1297.5" y="217.5" font-size="10.8" fill="#555">108.2000</text>
<line x1="1290.0" y1="240.5" x2="1294.7" y2="240.5" stroke="#b8b8b8" stroke-width="1.2"/>
<text x="1297.5" y="244.5" font-size="10.8" fill="#555">108.0000</text>
<line x1="1290.0" y1="266.5" x2="1294.7" y2="266.5" stroke="#b8b8b8" stroke-width="1.2"/>
<text x="1297.5" y="270.5" font-size="10.8" fill="#555">107.8000</text>
<line x1="1290.0" y1="292.5" x2="1294.7" y2="292.5" stroke="#b8b8b8" stroke-width="1.2"/>
<text x="1297.5" y="296.5" font-size="10.8" fill="#555">107.6000</text>
<line x1="1290.0" y1="319.5" x2="1294.7" y2="319.5" stroke="#b8b8b8" stroke-width="1.2"/>
<text x="1297.5" y="323.5" font-size="10.8" fill="#555">107.4000</text>
<line x1="1290.0" y1="345.5" x2="1294.7" y2="345.5" stroke="#b8b8b8" stroke-width="1.2"/>
<text x="1297.5" y="349.5" font-size="10.8" fill="#555">107.2000</text>
<line x1="1290.0" y1="372.5" x2="1294.7" y2="372.5" stroke="#b8b8b8" stroke-width="1.2"/>
<text x="1297.5" y="376.5" font-size="10.8" fill="#555">107.0000</text>
<line x1="1290.0" y1="398.5" x2="1294.7" y2="398.5" stroke="#b8b8b8" stroke-width="1.2"/>
<text x="1297.5" y="402.5" font-size="10.8" fill="#555">106.8000</text>
<line x1="1290.0" y1="420.5" x2="1294.7" y2="420.5" stroke="#b8b8b8" stroke-width="1.2"/>
<text x="1297.5" y="424.5" font-size="10.8" fill="#555">1.0000</text>
<line x1="1290.0" y1="453.5" x2="1294.7" y2="453.5" stroke="#b8b8b8" stroke-width="1.2"/>
<text x="1297.5" y="457.5" font-size="10.8" fill="#555">-0.0000</text>
<line x1="1290.0" y1="485.5" x2="1294.7" y2="485.5" stroke="#b8b8b8" stroke-width="1.2"/>
<text x="1297.5" y="489.5" font-size="10.8" fill="#555">-1.0000</text>
<line x1="1290.0" y1="541.5" x2="1294.7" y2="541.5" stroke="#b8b8b8" stroke-width="1.2"/>
<text x="1297.5" y="545.5" font-size="10.8" fill="#555">80.0000</text>
<line x1="1290.0" y1="570.5" x2="1294.7" y2="570.5" stroke="#b8b8b8" stroke-width="1.2"/>
<text x="1297.5" y="574.5" font-size="10.8" fill="#555">60.0000</text>
<line x1="1290.0" y1="598.5" x2="1294.7" y2="598.5" stroke="#b8b8b8" stroke-width="1.2"/>
<text x="1297.5" y="602.5" font-size="10.8" fill="#555">40.0000</text>
<line x1="1290.0" y1="627.5" x2="1294.7" y2="627.5" stroke="#b8b8b8" stroke-width="1.2"/>
<text x="1297.5" y="631.5" font-size="10.8" fill="#555">20.0000</text>
<line x1="1290.0" y1="656" x2="1294.7" y2="656" stroke="#b8b8b8" stroke-width="1.2"/>
<text x="1297.5" y="660" font-size="10.8" fill="#555">0.0000</text>
<path d="M1290.3,274.5 L1293,270.8 L1293,268.5 Q1293,267 1294.5,267 L1345.7,267 Q1347.2,267 1347.2,268.5 L1347.2,280.3 Q1347.2,281.8 1345.7,281.8 L1294.5,281.8 Q1293,281.8 1293,280.3 L1293,278.2 Z" fill="#2f4b77"/>
<text x="1298" y="278.5" font-size="11" font-weight="bold" fill="#fff">107.7420</text>
<line x1="0.5" y1="658" x2="0.5" y2="660" stroke="#555" stroke-width="1"/>
<text x="0" y="674" font-size="11" fill="#555">Jun</text>
<line x1="35.5" y1="658" x2="35.5" y2="660" stroke="#555" stroke-width="1"/>
<text x="35.5" y="674" font-size="11" fill="#555" text-anchor="middle">12</text>
<line x1="77.5" y1="658" x2="77.5" y2="660" stroke="#555" stroke-width="1"/>
<text x="77.5" y="674" font-size="11" fill="#555" text-anchor="middle">13</text>
<line x1="120.5" y1="658" x2="120.5" y2="660" stroke="#555" stroke-width="1"/>
<text x="120.5" y="674" font-size="11" fill="#555" text-anchor="middle">14</text>
<line x1="162.5" y1="658" x2="162.5" y2="660" stroke="#555" stroke-width="1"/>
<text x="162.5" y="674" font-size="11" fill="#555" text-anchor="middle">16</text>
<line x1="211.5" y1="658" x2="211.5" y2="660" stroke="#555" stroke-width="1"/>
<text x="211.5" y="674" font-size="11" fill="#555" text-anchor="middle">18</text>
<line x1="253.5" y1="658" x2="253.5" y2="660" stroke="#555" stroke-width="1"/>
<text x="253.5" y="674" font-size="11" fill="#555" text-anchor="middle">19</text>
<line x1="296.5" y1="658" x2="296.5" y2="660" stroke="#555" stroke-width="1"/>
<text x="296.5" y="674" font-size="11" fill="#555" text-anchor="middle">20</text>
<line x1="338.5" y1="658" x2="338.5" y2="660" stroke="#555" stroke-width="1"/>
<text x="338.5" y="674" font-size="11" fill="#555" text-anchor="middle">21</text>
<line x1="380.5" y1="658" x2="380.5" y2="660" stroke="#555" stroke-width="1"/>
<text x="380.5" y="674" font-size="11" fill="#555" text-anchor="middle">23</text>
<line x1="430.5" y1="658" x2="430.5" y2="660" stroke="#555" stroke-width="1"/>
<text x="430.5" y="674" font-size="11" fill="#555" text-anchor="middle">25</text>
<line x1="472.5" y1="658" x2="472.5" y2="660" stroke="#555" stroke-width="1"/>
<text x="472.5" y="674" font-size="11" fill="#555" text-anchor="middle">26</text>
<line x1="514.5" y1="658" x2="514.5" y2="660" stroke="#555" stroke-width="1"/>
<text x="514.5" y="674" font-size="11" fill="#555" text-anchor="middle">27</text>
<line x1="556.5" y1="658" x2="556.5" y2="660" stroke="#555" stroke-width="1"/>
<text x="556.5" y="674" font-size="11" fill="#555" text-anchor="middle">28</text>
<line x1="606.5" y1="658" x2="606.5" y2="660" stroke="#555" stroke-width="1"/>
<text x="606.5" y="674" font-size="11" fill="#555" text-anchor="middle">Jul</text>
<line x1="648.5" y1="658" x2="648.5" y2="660" stroke="#555" stroke-width="1"/>
<text x="648.5" y="674" font-size="11" fill="#555" text-anchor="middle">2</text>
<line x1="690.5" y1="658" x2="690.5" y2="660" stroke="#555" stroke-width="1"/>
<text x="690.5" y="674" font-size="11" fill="#555" text-anchor="middle">3</text>
<line x1="733.5" y1="658" x2="733.5" y2="660" stroke="#555" stroke-width="1"/>
<text x="733.5" y="674" font-size="11" fill="#555" text-anchor="middle">4</text>
<line x1="775.5" y1="658" x2="775.5" y2="660" stroke="#555" stroke-width="1"/>
<text x="775.5" y="674" font-size="11" fill="#555" text-anchor="middle">5</text>
<line x1="817.5" y1="658" x2="817.5" y2="660" stroke="#555" stroke-width="1"/>
<text x="817.5" y="674" font-size="11" fill="#555" text-anchor="middle">7</text>
<line x1="866.5" y1="658" x2="866.5" y2="660" stroke="#555" stroke-width="1"/>
<text x="866.5" y="674" font-size="11" fill="#555" text-anchor="middle">9</text>
<line x1="909.5" y1="658" x2="909.5" y2="660" stroke="#555" stroke-width="1"/>
<text x="909.5" y="674" font-size="11" fill="#555" text-anchor="middle">10</text>
<line x1="951.5" y1="658" x2="951.5" y2="660" stroke="#555" stroke-width="1"/>
<text x="951.5" y="674" font-size="11" fill="#555" text-anchor="middle">11</text>
<line x1="993.5" y1="658" x2="993.5" y2="660" stroke="#555" stroke-width="1"/>
<text x="993.5" y="674" font-size="11" fill="#555" text-anchor="middle">12</text>
<line x1="1036.5" y1="658" x2="1036.5" y2="660" stroke="#555" stroke-width="1"/>
<text x="1036.5" y="674" font-size="11" fill="#555" text-anchor="middle">14</text>
<line x1="1085.5" y1="658" x2="1085.5" y2="660" stroke="#555" stroke-width="1"/>
<text x="1085.5" y="674" font-size="11" fill="#555" text-anchor="middle">16</text>
<line x1="1127.5" y1="658" x2="1127.5" y2="660" stroke="#555" stroke-width="1"/>
<text x="1127.5" y="674" font-size="11" fill="#555" text-anchor="middle">17</text>
<line x1="1169.5" y1="658" x2="1169.5" y2="660" stroke="#555" stroke-width="1"/>
<text x="1169.5" y="674" font-size="11" fill="#555" text-anchor="middle">18</text>
<line x1="1212.5" y1="658" x2="1212.5" y2="660" stroke="#555" stroke-width="1"/>
<text x="1212.5" y="674" font-size="11" fill="#555" text-anchor="middle">19</text>
<line x1="1254.5" y1="658" x2="1254.5" y2="660" stroke="#555" stroke-width="1"/>
<text x="1254.5" y="674" font-size="11" fill="#555" text-anchor="middle">21</text>
<rect x="5" y="5" width="77" height="22" fill="#000" fill-opacity="0.61"/>
<rect x="5" y="5" width="3" height="22" fill="#2a8a72"/>
<text x="17" y="21" font-size="11" font-weight="bold" fill="#fff">USD/JPY</text>
<rect x="5" y="32" width="85" height="22" fill="#000" fill-opacity="0.61"/>
<rect x="5" y="32" width="3" height="22" fill="#ff0000"/>
<text x="17" y="48" font-size="11" font-weight="bold" fill="#fff">SMA (20,0)</text>
<rect x="5" y="59" width="91" height="22" fill="#000" fill-opacity="0.61"/>
<rect x="5" y="59" width="3" height="22" fill="#4400dd"/>
<text x="17" y="75" font-size="11" font-weight="bold" fill="#fff">SMA (100,0)</text>
<rect x="5" y="86" width="91" height="22" fill="#000" fill-opacity="0.61"/>
<rect x="5" y="86" width="3" height="22" fill="#ff8c00"/>
<text x="17" y="102" font-size="11" font-weight="bold" fill="#fff">SMA (200,0)</text>
<rect x="5" y="417" width="80" height="22" fill="#000" fill-opacity="0.61"/>
<rect x="5" y="417" width="3" height="22" fill="#0018ff"/>
<text x="17" y="433" font-size="11" font-weight="bold" fill="#fff">MOM (20)</text>
<rect x="5" y="516" width="111" height="22" fill="#000" fill-opacity="0.61"/>
<rect x="5" y="516" width="3" height="22" fill="#00ff00"/>
<text x="17" y="532" font-size="11" font-weight="bold" fill="#fff">RSI (14,70,30,1)</text>
</svg></body></html>
